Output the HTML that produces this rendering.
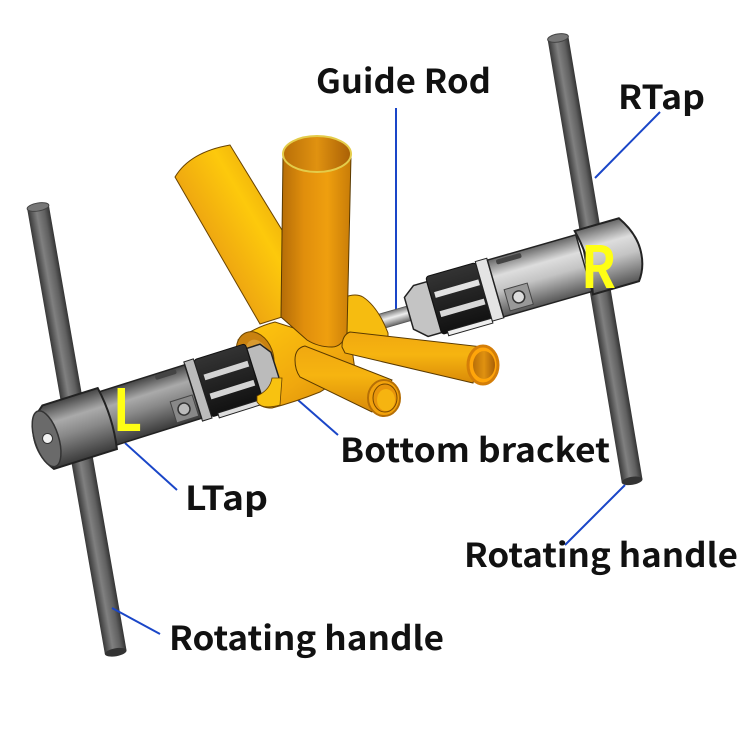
<!DOCTYPE html>
<html><head><meta charset="utf-8"><style>html,body{margin:0;padding:0;background:#fff}svg{display:block}text{font-family:"Noto Sans CJK SC","Liberation Sans",sans-serif;font-weight:700;fill:#111;font-size:33px}</style></head><body>
<svg width="750" height="737" viewBox="0 0 750 737" xmlns="http://www.w3.org/2000/svg">
<defs>
<linearGradient id="h"><stop offset="0" stop-color="#383838"/><stop offset=".4" stop-color="#808080"/><stop offset=".75" stop-color="#606060"/><stop offset="1" stop-color="#333"/></linearGradient>
<linearGradient id="gl" x1="0" y1="0" x2="0" y2="1"><stop offset="0" stop-color="#444"/><stop offset=".3" stop-color="#aaa"/><stop offset=".55" stop-color="#888"/><stop offset="1" stop-color="#3a3a3a"/></linearGradient>
<linearGradient id="gr" x1="0" y1="0" x2="0" y2="1"><stop offset="0" stop-color="#666"/><stop offset=".3" stop-color="#ddd"/><stop offset=".55" stop-color="#c4c4c4"/><stop offset="1" stop-color="#555"/></linearGradient>
<linearGradient id="k" x1="0" y1="0" x2="0" y2="1"><stop offset="0" stop-color="#333"/><stop offset="1" stop-color="#111"/></linearGradient>
<linearGradient id="s" x1="0" y1="0" x2="0" y2="1"><stop offset="0" stop-color="#777"/><stop offset=".45" stop-color="#eee"/><stop offset="1" stop-color="#666"/></linearGradient>
<linearGradient id="y1" x1="175" y1="260" x2="285" y2="195" gradientUnits="userSpaceOnUse"><stop offset="0" stop-color="#c87f08"/><stop offset=".35" stop-color="#f0aa10"/><stop offset=".7" stop-color="#fdc90c"/><stop offset="1" stop-color="#e8a80c"/></linearGradient>
<linearGradient id="y2" x1="283" y1="0" x2="351" y2="0" gradientUnits="userSpaceOnUse"><stop offset="0" stop-color="#b86f08"/><stop offset=".3" stop-color="#e08e0c"/><stop offset=".65" stop-color="#ef9f0e"/><stop offset="1" stop-color="#c87c08"/></linearGradient>
<linearGradient id="y3" x1="0" y1="0" x2="0" y2="1"><stop offset="0" stop-color="#f0a810"/><stop offset=".45" stop-color="#f6b410"/><stop offset="1" stop-color="#d98a08"/></linearGradient>
<linearGradient id="y4" x1="0" y1="0" x2="1" y2="1"><stop offset="0" stop-color="#ffc90e"/><stop offset=".6" stop-color="#f0a80e"/><stop offset="1" stop-color="#d68a08"/></linearGradient>
<linearGradient id="in" x1="0" y1="0" x2="1" y2="0"><stop offset="0" stop-color="#b96f08"/><stop offset=".5" stop-color="#e09210"/><stop offset="1" stop-color="#a96006"/></linearGradient>
</defs>

<!-- handles -->
<g transform="translate(38,207) rotate(-9.9)"><rect x="-11" y="0" width="22" height="452" fill="url(#h)"/><ellipse cx="0" cy="0" rx="11" ry="4" fill="#777" stroke="#444"/><ellipse cx="0" cy="452" rx="11" ry="4" fill="#333"/></g>
<g transform="translate(558,38) rotate(-9.5)"><rect x="-10.500" y="0" width="21" height="449" fill="url(#h)"/><ellipse cx="0" cy="0" rx="10.500" ry="4" fill="#777" stroke="#444"/><ellipse cx="0" cy="449" rx="10.500" ry="4" fill="#333"/></g>

<!-- blue leaders -->
<g stroke="#1a46c8" stroke-width="2" fill="none">
<path d="M396 108V316"/><path d="M660 112L595 178"/><path d="M298 400L338 435"/><path d="M125 443L177 490"/><path d="M625 485L565 545"/><path d="M112 608L160 634"/>
</g>

<!-- back tube -->
<path d="M175 177Q190 152 230 145L282 230V317L260 324Z" fill="url(#y1)" stroke="#6a4300" stroke-width="1"/>

<!-- right tap -->
<g transform="translate(628,250) rotate(-16)">
<rect x="-262" y="-7" width="45" height="15" fill="url(#s)" stroke="#555" stroke-width=".8"/>
<path d="M-228 -16L-216 -25H-202V28H-216L-228 17Z" fill="#c4c4c4" stroke="#222" stroke-width="1.500"/>
<rect x="-202" y="-30" width="52" height="60" rx="3" fill="url(#k)" stroke="#111"/>
<rect x="-198" y="-13" width="46" height="6" fill="#e2e2e2"/><rect x="-198" y="7" width="46" height="6" fill="#d8d8d8"/>
<path d="M-196 33H-150V28H-196Z" fill="#eee" stroke="#222" stroke-width="1"/>
<rect x="-150" y="-31" width="12" height="62" fill="#e4e4e4" stroke="#222"/>
<path d="M-138 -29H-46V30H-138Z" fill="url(#gr)" stroke="#222" stroke-width="1.500"/>
<rect x="-130" y="4" width="24" height="22" fill="#999" stroke="#444"/><circle cx="-118" cy="15" r="6" fill="#ddd" stroke="#333" stroke-width="1.500"/>
<rect x="-130" y="-27" width="26" height="5" rx="2" fill="#444"/>
<path d="M-46 -33H0Q12 -15 12 2Q12 20 2 33H-46Q-38 0 -46 -33Z" fill="url(#gr)" stroke="#222" stroke-width="2"/>
</g>

<!-- rear shell -->
<path d="M345 297Q356 293 363 297Q378 307 388 333L388 338L345 345Z" fill="#f6bc10" stroke="#6a4300"/>

<!-- BB shell -->
<path d="M238 340Q255 327 275 322L300 330L350 335L355 370L320 392Q295 402 272 408Q260 408 254 400Z" fill="url(#y4)" stroke="#6a4300"/>
<ellipse cx="255" cy="356" rx="18" ry="25" transform="rotate(-20 255 356)" fill="#c98210" stroke="#704800"/>
<ellipse cx="258" cy="358" rx="12" ry="19" transform="rotate(-20 258 358)" fill="#d89a30"/>

<!-- left tap -->
<g transform="translate(52,436) rotate(-17.500)">
<path d="M212 -25H226L234 -14V12L228 25H212Z" fill="#bbb" stroke="#222" stroke-width="1.500"/>
<rect x="158" y="-30" width="54" height="60" rx="3" fill="url(#k)" stroke="#111"/>
<rect x="163" y="-13" width="46" height="6" fill="#d4d4d4"/><rect x="163" y="7" width="46" height="6" fill="#d4d4d4"/>
<path d="M165 33H210V28H165Z" fill="#ddd" stroke="#222" stroke-width="1"/>
<rect x="148" y="-31" width="10" height="62" fill="#bbb" stroke="#222"/>
<path d="M58 -28H148V28H58Z" fill="url(#gl)" stroke="#222" stroke-width="1.500"/>
<rect x="123" y="3" width="23" height="22" fill="#888" stroke="#444"/><circle cx="134" cy="14" r="6" fill="#bbb" stroke="#333" stroke-width="1.500"/>
<rect x="116" y="-27" width="22" height="5" rx="2" fill="#444"/>
<path d="M-10 -24Q-18 -12 -18 2Q-18 18 -8 32H58Q64 0 58 -32H0Z" fill="url(#gl)" stroke="#222" stroke-width="2"/>
<ellipse cx="-6" cy="1" rx="12" ry="29" fill="#6a6a6a" stroke="#333" stroke-width="1.500"/>
<circle cx="-5" cy="1" r="5" fill="#f2f2f2" stroke="#333"/>
</g>
<path d="M257 396Q270 390 272 378L282 378L280 405Q262 410 257 402Z" fill="#f8c210" stroke="#6a4300" stroke-width=".8"/>

<!-- seat tube -->
<path d="M283 155H351L347 333Q342 347 332 347Q318 347 307 340L281 317Z" fill="url(#y2)" stroke="#5a3a00" stroke-width="1"/>
<ellipse cx="317" cy="154" rx="34" ry="18" fill="url(#in)" stroke="#e4cc4a" stroke-width="2"/>

<!-- right stay -->
<path d="M342 347Q342 335 350 332L483 347L473 383L345 353Z" fill="url(#y3)" stroke="#5a3a00" stroke-width="1"/>
<ellipse cx="483" cy="365" rx="15" ry="19" fill="#ffa50a" stroke="#d47e08" stroke-width="3"/>
<ellipse cx="484" cy="365" rx="11" ry="14" fill="url(#in)"/>

<!-- lower stay -->
<path d="M295 360Q295 348 305 346L392 380L372 412L300 377Q295 370 295 360Z" fill="url(#y3)" stroke="#5a3a00" stroke-width="1"/>
<ellipse cx="384" cy="398" rx="16" ry="18" fill="#f2a20c" stroke="#b56f06" stroke-width="2"/>
<ellipse cx="385" cy="398" rx="12" ry="14" fill="#e8950c" stroke="#7a4a00" stroke-width="1"/>
<ellipse cx="386" cy="400" rx="9" ry="11" fill="#f6b410"/>

<text x="113" y="431" style="font-size:58px;fill:#ffff14" textLength="29" lengthAdjust="spacingAndGlyphs">L</text>
<text x="581" y="288" style="font-size:58px;fill:#ffff14" textLength="35" lengthAdjust="spacingAndGlyphs">R</text>

<text x="316" y="93" textLength="175" lengthAdjust="spacingAndGlyphs">Guide Rod</text>
<text x="618" y="109" textLength="87" lengthAdjust="spacingAndGlyphs">RTap</text>
<text x="340" y="462" textLength="270" lengthAdjust="spacingAndGlyphs">Bottom bracket</text>
<text x="185" y="510" textLength="83" lengthAdjust="spacingAndGlyphs">LTap</text>
<text x="464" y="567" textLength="274" lengthAdjust="spacingAndGlyphs">Rotating handle</text>
<text x="169" y="650" textLength="275" lengthAdjust="spacingAndGlyphs">Rotating handle</text>
</svg>
</body></html>
